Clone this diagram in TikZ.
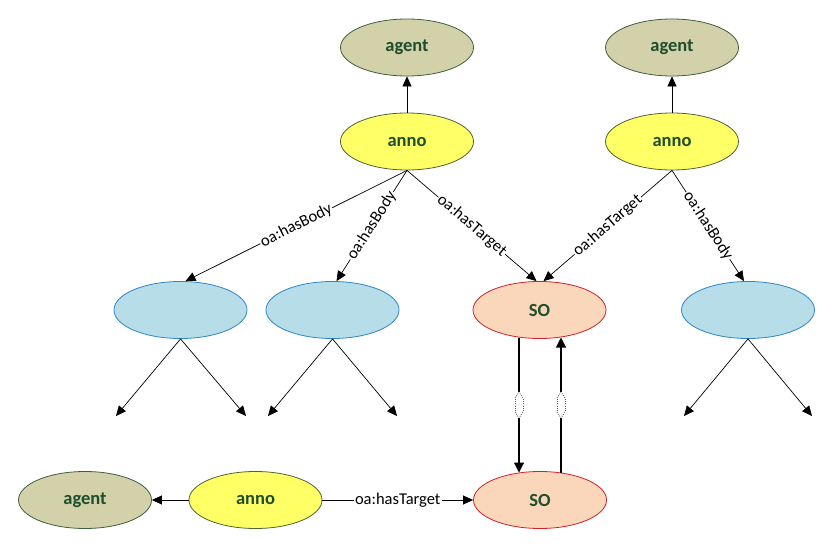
\documentclass[tikz,border=0pt]{standalone}
\usepackage{fontspec}
\setmainfont{Carlito}
\usetikzlibrary{arrows.meta,calc,shapes.geometric}
\definecolor{txtgreen}{RGB}{30,78,44}
\definecolor{agentfill}{RGB}{211,209,170}
\definecolor{agentdraw}{RGB}{62,96,62}
\definecolor{annofill}{RGB}{255,255,102}
\definecolor{annodraw}{RGB}{80,100,50}
\definecolor{bluefill}{RGB}{183,221,232}
\definecolor{bluedraw}{RGB}{46,134,201}
\definecolor{sofill}{RGB}{250,215,186}
\definecolor{sodraw}{RGB}{208,32,42}
\begin{document}
\begin{tikzpicture}[x=1pt,y=-1pt,
  ell/.style={ellipse, minimum width=133pt, minimum height=57pt, inner sep=0pt,
    line width=0.8pt, font=\fontsize{18.5}{21}\selectfont\bfseries, text=txtgreen},
  agentn/.style={ell, fill=agentfill, draw=agentdraw},
  annon/.style={ell, fill=annofill, draw=annodraw},
  bluen/.style={ell, fill=bluefill, draw=bluedraw},
  son/.style={ell, fill=sofill, draw=sodraw},
  conn/.style={draw=black, line width=0.7pt, -{Triangle[length=10pt,width=9pt]}},
  vconn/.style={draw=black, line width=1.1pt, -{Triangle[length=10pt,width=10pt]}},
  brk/.style={draw=black!65, line width=0.7pt, dash pattern=on 1pt off 1.2pt},
  lbl/.style={fill=white, inner sep=1pt, font=\fontsize{16.5}{19}\selectfont, sloped, midway}
]
\useasboundingbox (0,0) rectangle (832,548);

% nodes
\node[agentn] (ag1) at (407,47.5) {agent};
\node[annon]  (an1) at (407,141.5) {anno};
\node[agentn] (ag2) at (672,47.5) {agent};
\node[annon]  (an2) at (672,141.5) {anno};
\node[bluen]  (b1) at (180.5,310) {};
\node[bluen]  (b2) at (332.5,310) {};
\node[son]    (so1) at (539.5,310) {SO};
\node[bluen]  (b3) at (748,310) {};
\node[agentn] (ag3) at (85,500) {agent};
\node[annon]  (an3) at (255.5,500) {anno};
\node[son]    (so2) at (540,500) {SO};

% free ends
\coordinate (b1l) at (116,416);
\coordinate (b1r) at (246,416);
\coordinate (b2l) at (268,416);
\coordinate (b2r) at (397,416);
\coordinate (b3l) at (684,416);
\coordinate (b3r) at (812,416);

% top connectors
\draw[conn] (an1) -- (ag1);
\draw[conn] (an2) -- (ag2);
\draw[conn] (an1.south) -- ($(b1.north)+(5,0)$) node[lbl]{oa:hasBody};
\draw[conn] (an1.south) -- ($(b2.north)+(4,0)$) node[lbl]{oa:hasBody};
\draw[conn] (an1.south) -- ($(so1.north)+(-3,0)$) node[lbl]{oa:hasTarget};
\draw[conn] (an2.south) -- ($(so1.north)+(4,0)$) node[lbl]{oa:hasTarget};
\draw[conn] (an2.south) -- ($(b3.north)+(-4,0)$) node[lbl]{oa:hasBody};

% outgoing from blue nodes
\draw[conn] (b1.south) -- (b1l);
\draw[conn] (b1.south) -- (b1r);
\draw[conn] (b2.south) -- (b2l);
\draw[conn] (b2.south) -- (b2r);
\draw[conn] (b3.south) -- (b3l);
\draw[conn] (b3.south) -- (b3r);

% break points on vertical links
\coordinate (k1a) at (519,392);
\coordinate (k1b) at (519,418);
\coordinate (k2a) at (561,392);
\coordinate (k2b) at (561,418);

\draw[vconn] ($(so1.south)+(-20.5,-1.4)$) -- (k1a) (k1b) -- ($(so2.north)+(-21,1.4)$);
\draw[vconn] ($(so2.north)+(21,1.4)$) -- (k2b) (k2a) -- ($(so1.south)+(21.5,-1.4)$);
\foreach \k in {k1,k2}{
  \draw[brk] ($(\k a)+(-4,6)$) -- (\k a) -- ($(\k a)+(4,6)$);
  \draw[brk] ($(\k a)+(-4,7)$) -- ($(\k b)+(-4,-7)$);
  \draw[brk] ($(\k a)+(4,7)$) -- ($(\k b)+(4,-7)$);
  \draw[brk] ($(\k b)+(-4,-6)$) -- (\k b) -- ($(\k b)+(4,-6)$);
}

% bottom row
\draw[conn] (an3) -- (ag3);
\draw[conn] (an3) -- (so2) node[lbl]{oa:hasTarget};
\end{tikzpicture}
\end{document}
